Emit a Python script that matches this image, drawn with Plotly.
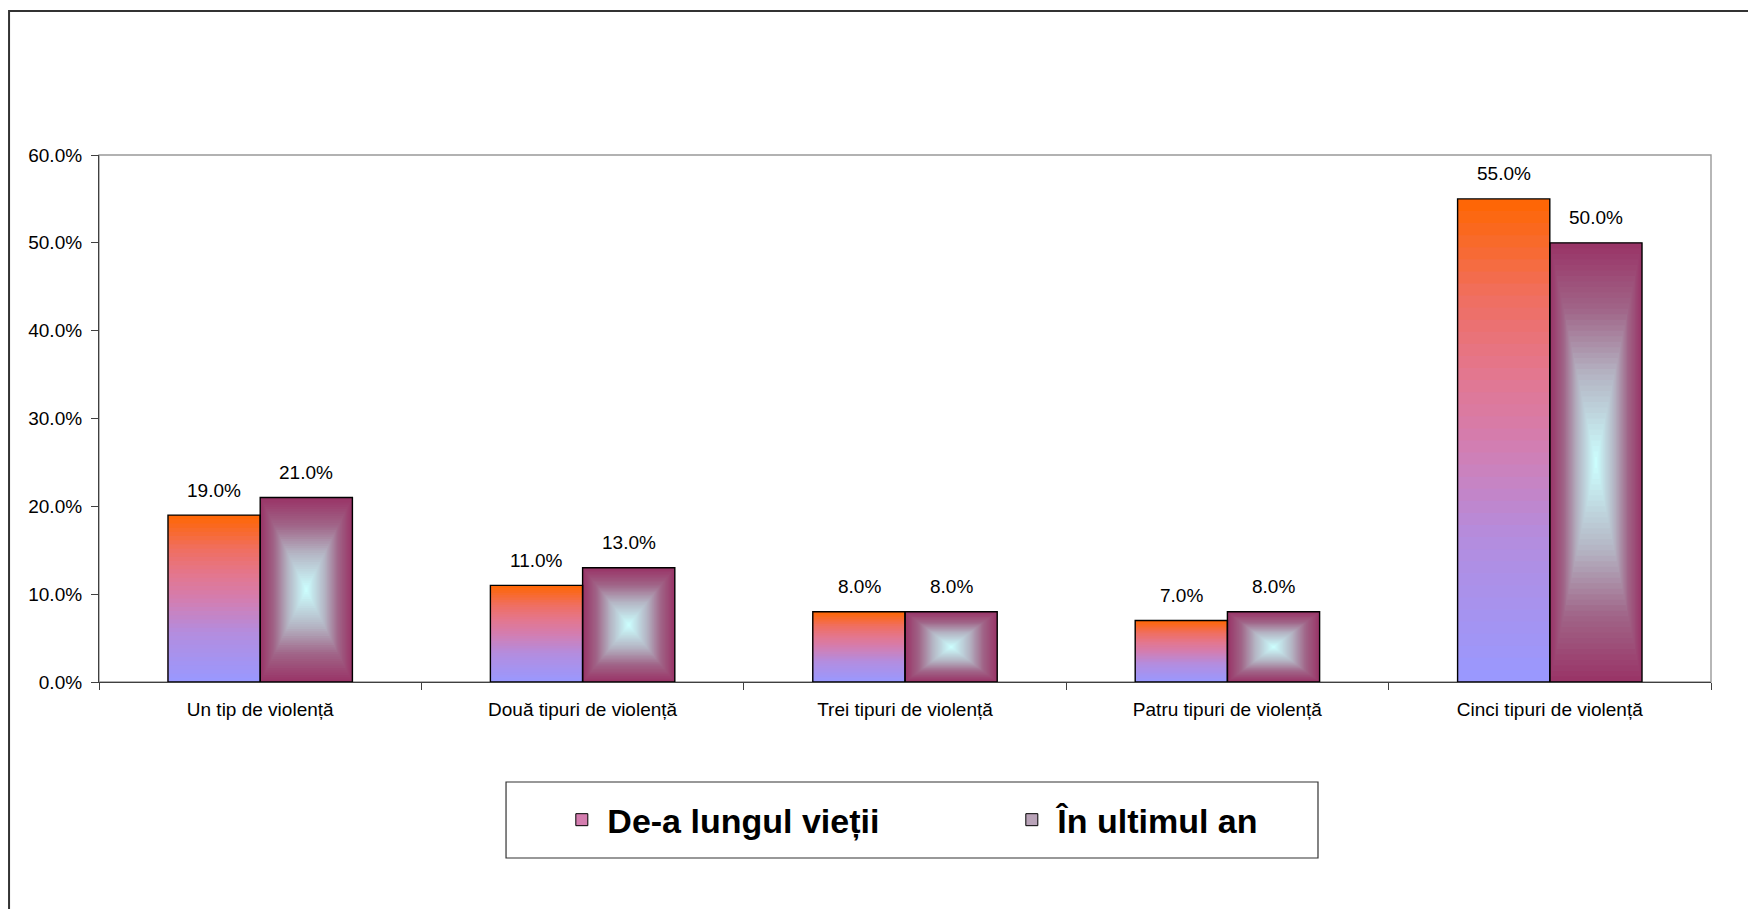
import plotly.graph_objects as go

# ── Data ──────
categories = [
    "Un tip de violență",
    "Două tipuri de violență",
    "Trei tipuri de violență",
    "Patru tipuri de violență",
    "Cinci tipuri de violență",
]
lifetime = [0.19, 0.11, 0.08, 0.07, 0.55]
last_year = [0.21, 0.13, 0.08, 0.08, 0.50]
series_names = ["De-a lungul vieții", "În ultimul an"]

# ── Style ──────
FONT = "Liberation Sans, Arial, sans-serif"
W = 0.286            # bar width in category units
N_STEPS = 40         # gradient smoothness

# bottom -> top for the first series
STOPS_LIFE = [(0.0, (153, 153, 255)), (0.3, (180, 140, 222)), (0.5, (212, 125, 175)),
              (0.65, (228, 118, 140)), (0.8, (240, 110, 95)), (1.0, (255, 102, 0))]
# edge -> centre for the second series
STOPS_YEAR = [(0.0, (153, 51, 102)), (0.3, (160, 100, 135)), (0.6, (180, 180, 195)),
              (1.0, (204, 255, 255))]


def grad(stops, t):
    for (t0, c0), (t1, c1) in zip(stops, stops[1:]):
        if t <= t1:
            u = (t - t0) / (t1 - t0)
            return "rgb({},{},{})".format(*[round(a + (b - a) * u) for a, b in zip(c0, c1)])
    return "rgb({},{},{})".format(*stops[-1][1])


fig = go.Figure()

# series 1: vertical gradient, orange top -> periwinkle bottom
for k in range(N_STEPS, 0, -1):
    frac = k / N_STEPS
    fig.add_trace(go.Bar(
        x=categories, y=[v * frac for v in lifetime],
        width=W, offset=-W,
        marker=dict(color=grad(STOPS_LIFE, (k - 0.5) / N_STEPS), line=dict(width=0)),
        showlegend=False, hoverinfo="skip",
    ))

# series 2: rectangular gradient from centre, maroon edges -> light cyan centre
for j in range(N_STEPS):
    s = j / N_STEPS
    fig.add_trace(go.Bar(
        x=categories, y=[v * (1 - s) for v in last_year],
        base=[v * s / 2 for v in last_year],
        width=W * (1 - s), offset=W * s / 2,
        marker=dict(color=grad(STOPS_YEAR, (j + 0.5) / N_STEPS), line=dict(width=0)),
        showlegend=False, hoverinfo="skip",
    ))

# outlines on top
for vals, off, name in [(lifetime, -W, series_names[0]), (last_year, 0, series_names[1])]:
    fig.add_trace(go.Bar(
        x=categories, y=vals, width=W, offset=off, name=name,
        marker=dict(color="rgba(0,0,0,0)", line=dict(color="black", width=1.4)),
        showlegend=False,
        hovertemplate="%{x}<br>%{y:.1%}<extra>" + name + "</extra>",
    ))

# legend-only swatches
fig.add_trace(go.Bar(x=[None], y=[None], name=series_names[0],
                     marker=dict(color=grad(STOPS_LIFE, 0.5), line=dict(color="black", width=1))))
fig.add_trace(go.Bar(x=[None], y=[None], name=series_names[1],
                     marker=dict(color="#B9A3B8", line=dict(color="black", width=1))))

# value labels
for vals, shift in [(lifetime, -46), (last_year, 46)]:
    for c, v in zip(categories, vals):
        fig.add_annotation(x=c, y=v, text=f"{v:.1%}", showarrow=False,
                           xshift=shift, yshift=25,
                           font=dict(family=FONT, size=19, color="black"))

# plot-area border, legend box, outer frame
fig.add_shape(type="rect", xref="paper", yref="paper", x0=0, x1=1, y0=0, y1=1,
              line=dict(color="#999999", width=1.4), layer="below")
fig.add_shape(type="rect", xref="paper", yref="paper", x0=0.2525, x1=0.7562, y0=-0.334, y1=-0.1898,
              line=dict(color="#333333", width=1.2))
fig.add_shape(type="rect", xref="paper", yref="paper", x0=-0.0558, x1=1.2, y0=-0.6, y1=1.2732,
              line=dict(color="#333333", width=2))

fig.update_layout(
    width=1756, height=909,
    margin=dict(l=91, r=53, t=147, b=235),
    paper_bgcolor="white", plot_bgcolor="white",
    barmode="overlay",
    font=dict(family=FONT, size=19, color="black"),
    showlegend=True,
    legend=dict(
        orientation="h", x=0.2837, xanchor="left", y=-0.262, yanchor="middle",
        font=dict(family=FONT, size=34, color="black", weight="bold"),
        entrywidth=394, itemwidth=41, bgcolor="rgba(0,0,0,0)", borderwidth=0,
    ),
    xaxis=dict(
        showline=True, linecolor="#404040", linewidth=1.2,
        ticks="outside", ticklen=7, tickcolor="#404040", tickson="boundaries",
        showgrid=False, tickfont=dict(size=19), ticklabelstandoff=10,
    ),
    yaxis=dict(
        range=[0, 0.6], dtick=0.1, tickformat=".1%",
        showline=True, linecolor="#404040", linewidth=1.2,
        ticks="outside", ticklen=7, tickcolor="#404040",
        showgrid=False, zeroline=False, tickfont=dict(size=19), ticklabelstandoff=5,
    ),
)

fig.write_html("out.html")
